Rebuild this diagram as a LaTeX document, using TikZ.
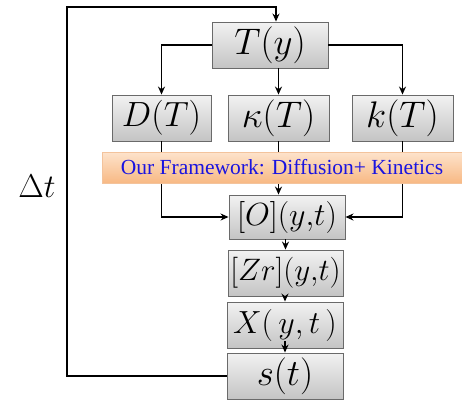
\documentclass[tikz,border=0pt]{standalone}
\usepackage{fix-cm}
\usepackage{fontspec}
\setmainfont{Liberation Serif}
\usetikzlibrary{arrows.meta}
\definecolor{boxtop}{HTML}{F2F2F2}
\definecolor{boxbot}{HTML}{C4C4C4}
\definecolor{boxline}{HTML}{6A6A6A}
\definecolor{bantop}{HTML}{FDE3CC}
\definecolor{banbot}{HTML}{F8B984}
\definecolor{banline}{HTML}{F3C39C}
\definecolor{bantext}{HTML}{1A14E0}
\tikzset{
  x=1pt,y=-1pt,
  gbox/.style={draw=boxline,line width=0.9pt,top color=boxtop,bottom color=boxbot,
    inner sep=0pt,minimum height=46pt,font=\fontsize{37}{40}\selectfont},
  gsmall/.style={gbox,font=\fontsize{32}{36}\selectfont},
  banner/.style={draw=banline,line width=0.6pt,top color=bantop,bottom color=banbot,
    inner sep=0pt,minimum width=360pt,minimum height=31pt,
    font=\fontsize{21.5}{24}\selectfont,text=bantext},
  arr/.style={-{Stealth[length=8pt,width=7pt]},line width=1.8pt,black},
}
\begin{document}
\begin{tikzpicture}
\useasboundingbox (0,0) rectangle (462,400);
\node[gbox,minimum width=116pt] (T) at (270,45) {$T(y)$};
\node[gbox,minimum width=99pt,font=\fontsize{35}{38}\selectfont] (D) at (161.5,118) {$D(T)$};
\node[gbox,minimum width=101pt] (kap) at (278.5,118) {$\kappa(T)$};
\node[gbox,minimum width=101pt] (k) at (402.5,118) {$k(T)$};
\node[gsmall,minimum width=116pt,minimum height=44pt] (O) at (287,217) {$[O](y,\!t)$};
\node[gsmall,minimum width=115pt,font=\fontsize{31}{34}\selectfont] (Zr) at (285.5,273) {$[Zr](y,\!t)$};
\node[gsmall,minimum width=116pt] (X) at (285,325) {$X(\,y,t\,)$};
\node[gbox,minimum width=116pt] (s) at (285,376) {$s(t)$};
\node[font=\fontsize{33}{36}\selectfont] (dt) at (37,186) {$\Delta t$};
\coordinate (c1) at (67,7);
\coordinate (c2) at (276,7);
\draw[arr] (T.west) -| (D.north);
\draw[arr] (T.east) -| (k.north);
\draw[arr] (kap.north |- T.south) -- (kap.north);
\draw[arr] (D.south) |- (O.west);
\draw[arr] (k.south) |- (O.east);
\draw[arr] (kap.south) -- (kap.south |- O.north);
\draw[arr] (Zr.north |- O.south) -- (Zr.north);
\draw[arr] (X.north |- Zr.south) -- (X.north);
\draw[arr] ([yshift=7pt]s.north |- X.south) -- (s.north);
\draw[arr] (s.west) -| (c1) -- (c2) -- (c2 |- T.north);
\node[banner] (fw) at (282,167.5) {Our Framework: Diffusion+ Kinetics};
\end{tikzpicture}
\end{document}
